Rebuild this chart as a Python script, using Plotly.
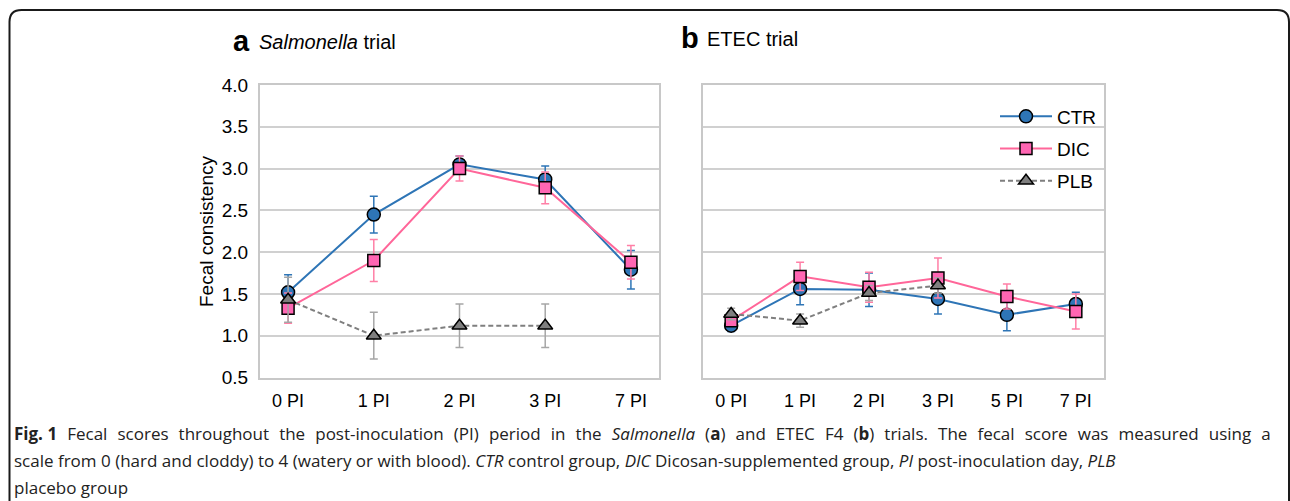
import plotly.graph_objects as go

W, H = 1290, 501

# ---------------- data ----------------
cats_a = ["0 PI", "1 PI", "2 PI", "3 PI", "7 PI"]
ctr_a = [1.52, 2.45, 3.05, 2.87, 1.79]
ctr_a_err = [0.21, 0.22, 0.10, 0.16, 0.23]
dic_a = [1.33, 1.90, 3.00, 2.77, 1.88]
dic_a_err = [0.18, 0.25, 0.15, 0.19, 0.20]
plb_a = [1.43, 1.00, 1.12, 1.12, None]
plb_a_err = [0.27, 0.28, 0.26, 0.26, None]

cats_b = ["0 PI", "1 PI", "2 PI", "3 PI", "5 PI", "7 PI"]
ctr_b = [1.12, 1.56, 1.55, 1.44, 1.25, 1.38]
ctr_b_err = [0.07, 0.19, 0.20, 0.18, 0.19, 0.14]
dic_b = [1.18, 1.71, 1.58, 1.69, 1.47, 1.29]
dic_b_err = [0.05, 0.17, 0.18, 0.24, 0.15, 0.21]
plb_b = [1.26, 1.18, 1.51, 1.60, None, None]
plb_b_err = [0.07, 0.08, 0.09, 0.09, None, None]

y_ticks = [0.5, 1.0, 1.5, 2.0, 2.5, 3.0, 3.5, 4.0]

# ---------------- styles ----------------
FONT = "Liberation Sans, Arial, sans-serif"
CTR_C = "#2E75B6"
DIC_C = "#FF6699"
DIC_FILL = "#FF66B3"
DIC_ERR = "#FF7FA6"
PLB_C = "#7F7F7F"
PLB_ERR = "#A6A6A6"
GRID = "#D0D0D0"


def px_x(p):
    return p / W


def px_y(p):
    return 1 - p / H


series = [
    ("CTR", CTR_C, CTR_C, CTR_C, "circle", 13, "solid"),
    ("DIC", DIC_C, DIC_FILL, DIC_ERR, "square", 12, "solid"),
    ("PLB", PLB_C, PLB_C, PLB_ERR, "triangle-up", 13, "5px,3px"),
]

data_a = [(ctr_a, ctr_a_err), (dic_a, dic_a_err), (plb_a, plb_a_err)]
data_b = [(ctr_b, ctr_b_err), (dic_b, dic_b_err), (plb_b, plb_b_err)]

fig = go.Figure()

for panel, (cats, dat, xa, ya) in enumerate([(cats_a, data_a, "x", "y"), (cats_b, data_b, "x2", "y2")]):
    for (name, lc, fc, ec, sym, sz, dash), (vals, errs) in zip(series, dat):
        fig.add_trace(go.Scatter(
            x=cats, y=vals, name=name, xaxis=xa, yaxis=ya,
            mode="lines+markers",
            line=dict(color=lc, width=2, dash=dash),
            marker=dict(symbol=sym, size=sz, color=fc, line=dict(color="#000000", width=1.5)),
            error_y=dict(type="data", array=errs, visible=True, color=ec, thickness=1.5, width=4),
            showlegend=(panel == 1), legendgroup=name,
            connectgaps=False,
        ))

axis_common = dict(
    showline=True, mirror=True, linecolor="#C8C8C8", linewidth=2,
    ticks="", zeroline=False, automargin=False,
)
xfont = dict(family=FONT, size=18, color="#000000")
yfont = dict(family=FONT, size=19, color="#000000")

fig.update_layout(
    template="none",
    width=W, height=H,
    margin=dict(l=0, r=0, t=0, b=0, pad=0, autoexpand=False),
    paper_bgcolor="white", plot_bgcolor="white",
    font=dict(family=FONT, color="#000000"),
    xaxis=dict(domain=[px_x(260), px_x(659)], showgrid=False, ticklabelstandoff=6,
               tickfont=xfont, **axis_common),
    yaxis=dict(domain=[px_y(377.5), px_y(85)], range=[0.5, 4.0], tickvals=y_ticks,
               tickformat=".1f", showgrid=True, gridcolor=GRID, gridwidth=2,
               ticklabelstandoff=6, tickfont=yfont, **axis_common),
    xaxis2=dict(domain=[px_x(703), px_x(1104)], showgrid=False, anchor="y2", ticklabelstandoff=6,
                tickfont=xfont, **axis_common),
    yaxis2=dict(domain=[px_y(377.5), px_y(85)], range=[0.5, 4.0], tickvals=y_ticks,
                showticklabels=False, showgrid=True, gridcolor=GRID, gridwidth=2,
                anchor="x2", tickfont=yfont, **axis_common),
    legend=dict(
        x=px_x(995), y=px_y(97.5), xanchor="left", yanchor="top",
        font=dict(family=FONT, size=19, color="#000000"),
        bgcolor="rgba(0,0,0,0)", itemwidth=52, tracegroupgap=4.5,
    ),
)

annotations = [
    dict(text="<b>a</b>", x=px_x(231), y=px_y(41), xanchor="left", yanchor="middle",
         font=dict(family=FONT, size=29)),
    dict(text="<i>Salmonella</i> trial", x=px_x(257), y=px_y(42), xanchor="left", yanchor="middle",
         font=dict(family=FONT, size=20)),
    dict(text="<b>b</b>", x=px_x(679), y=px_y(38), xanchor="left", yanchor="middle",
         font=dict(family=FONT, size=29)),
    dict(text="ETEC trial", x=px_x(705), y=px_y(39), xanchor="left", yanchor="middle",
         font=dict(family=FONT, size=20)),
    dict(text="Fecal consistency", x=px_x(207), y=px_y(231), xanchor="center", yanchor="middle",
         textangle=-90, font=dict(family=FONT, size=19)),
]

CAP_FONT = "Open Sans, Noto Sans, sans-serif"
SP = " \u2004"  # widened word gap for the justified first line
caption_line1 = "<b>Fig. 1</b>" + SP + SP.join([
    "Fecal", "scores", "throughout", "the", "post-inoculation", "(PI)", "period",
    "in", "the", "<i>Salmonella</i>", "(<b>a</b>)", "and", "ETEC", "F4", "(<b>b</b>)", "trials.",
    "The", "fecal", "score", "was", "measured", "using", "a",
])
caption_lines = [
    caption_line1,
    "scale from 0 (hard and cloddy) to 4 (watery or with blood). <i>CTR</i> control group, <i>DIC</i> Dicosan-supplemented group, <i>PI</i> post-inoculation day, <i>PLB</i>",
    "placebo group",
]
for line, yy in zip(caption_lines, [433, 460, 487]):
    annotations.append(dict(text=line, x=px_x(12), y=px_y(yy), xanchor="left", yanchor="middle",
                            font=dict(family=CAP_FONT, size=17, color="#222222")))

for a in annotations:
    a.update(xref="paper", yref="paper", showarrow=False)
fig.update_layout(annotations=annotations)

# rounded outer border
x0, x1, yt, yb, r = px_x(9.5), px_x(1289), px_y(10), px_y(520), 12
rx, ry = r / W, r / H
path = (f"M {x0},{yb} L {x0},{yt - ry} Q {x0},{yt} {x0 + rx},{yt} "
        f"L {x1 - rx},{yt} Q {x1},{yt} {x1},{yt - ry} L {x1},{yb}")
fig.add_shape(type="path", path=path, xref="paper", yref="paper",
              line=dict(color="#1A1A1A", width=2))

POST = (
    "document.documentElement.style.margin='0';document.documentElement.style.padding='0';"
    "document.documentElement.style.overflow='hidden';"
    "document.body.style.margin='0';document.body.style.padding='0';document.body.style.overflow='hidden';"
    "var d=document.getElementById('{plot_id}');d.style.position='fixed';d.style.top='0px';d.style.left='0px';"
)

fig.write_html("out.html", config={"displayModeBar": False}, post_script=POST)
